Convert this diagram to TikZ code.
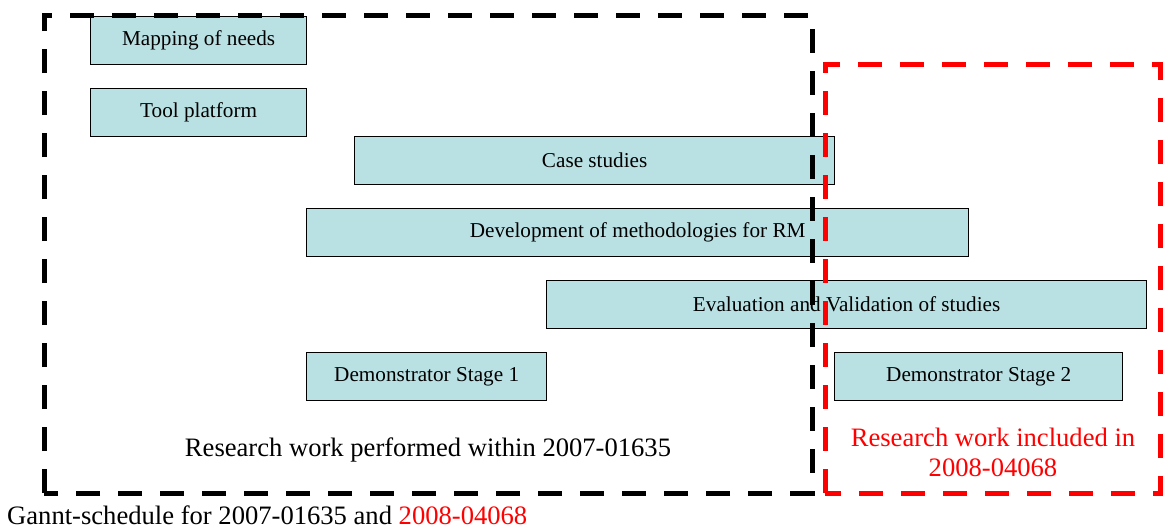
\documentclass[tikz,border=0pt]{standalone}
\usepackage{fontspec}
\setmainfont{Liberation Serif}
\definecolor{taskblue}{RGB}{185,224,227}
\definecolor{newred}{RGB}{255,0,0}
\tikzset{
  task/.style={draw=black,line width=1.3pt,fill=taskblue,anchor=north west,inner sep=0pt,
    minimum height=48pt,font=\fontsize{21.2}{24}\selectfont},
  frame/.style={line width=5pt,dash pattern=on 24pt off 18pt},
  note/.style={font=\fontsize{26.6}{30}\selectfont,align=center,inner sep=0pt}
}
\begin{document}
\begin{tikzpicture}[x=1pt,y=-1pt]
\useasboundingbox (0,0) rectangle (1165,528);
% Drawing tasks
\node[task,minimum width=216pt] (needs) at (90,16) {Mapping of needs};
\node[task,minimum width=216pt] (platform) at (90,88) {Tool platform};
\node[task,minimum width=480pt] (cases) at (354,136) {Case studies};
\node[task,minimum width=662pt] (methods) at (306,208) {Development of methodologies for RM};
\node[task,minimum width=600pt] (eval) at (546,280) {Evaluation and Validation of studies};
\node[task,minimum width=240pt] (demoA) at (306,352) {Demonstrator Stage 1};
\node[task,minimum width=288pt] (demoB) at (834,352) {Demonstrator Stage 2};
% Done with tasks; drawing project frames
\draw[frame,color=black] (44,493) -- (44,15) -- (812,15) -- (812,493) -- cycle;
\draw[frame,color=newred] (825,493) -- (825,64) -- (1160,64) -- (1160,493) -- cycle;
% Frame labels
\node[note] (oldwork) at (428,450) {Research work performed within 2007-01635};
\node[note,text=newred] (newwork) at (993,452) {Research work included in\\2008-04068};
% Caption
\node[note,anchor=west] (caption) at (7,515) {Gannt-schedule for 2007-01635 and \textcolor{newred}{2008-04068}};
\end{tikzpicture}
\end{document}
